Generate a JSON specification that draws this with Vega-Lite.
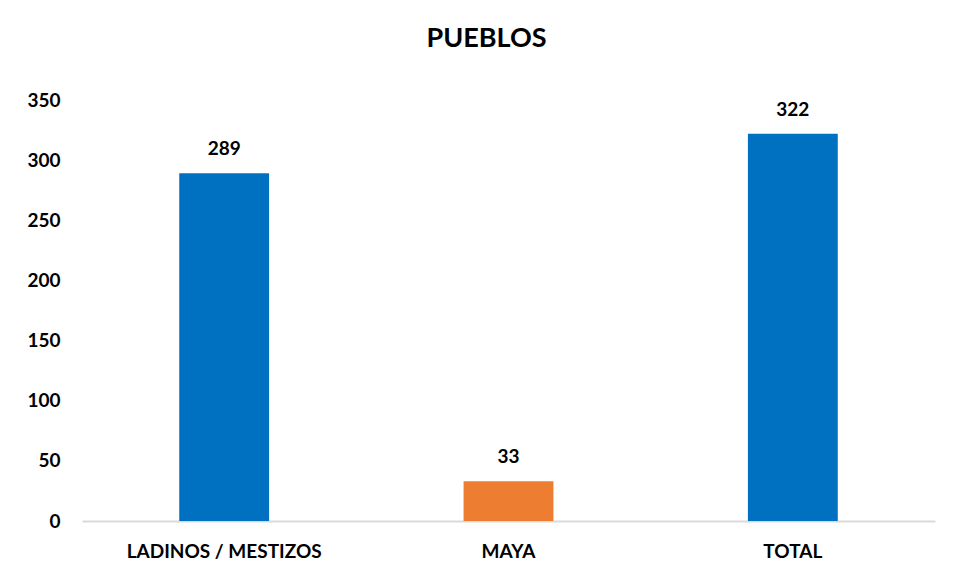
{
  "$schema": "https://vega.github.io/schema/vega-lite/v6.json",
  "autosize": "none",
  "width": 853,
  "height": 421,
  "padding": {"left": 82, "top": 100, "right": 19, "bottom": 57},
  "background": "white",
  "config": {"view": {"stroke": null}, "font": "Lato"},
  "title": {"text": "PUEBLOS", "fontSize": 27, "font": "Lato", "fontWeight": "bold", "color": "#000000", "anchor": "middle", "frame": "group", "dx": -22, "offset": 38},
  "data": {"values": [
    {"pueblo": "LADINOS / MESTIZOS", "valor": 289, "color": "#0070C0"},
    {"pueblo": "MAYA", "valor": 33, "color": "#ED7D31"},
    {"pueblo": "TOTAL", "valor": 322, "color": "#0070C0"}
  ]},
  "encoding": {
    "x": {"field": "pueblo", "type": "nominal", "sort": null,
      "scale": {"paddingInner": 0.684, "paddingOuter": 0.342},
      "axis": {"title": null, "labelAngle": 0, "labelFontSize": 19, "labelLimit": 0, "labelFont": "Lato", "labelFontWeight": "bold", "labelColor": "#000000", "labelPadding": 21, "ticks": false, "domainColor": "#D9D9D9", "domainWidth": 2}},
    "y": {"field": "valor", "type": "quantitative",
      "scale": {"domain": [0, 350], "nice": false},
      "axis": {"title": null, "values": [0, 50, 100, 150, 200, 250, 300, 350], "grid": false, "domain": false, "ticks": false, "labelFontSize": 19, "labelFont": "Lato", "labelFontWeight": "bold", "labelColor": "#000000", "labelPadding": 22}}
  },
  "layer": [
    {"mark": {"type": "bar"}, "encoding": {"color": {"field": "color", "type": "nominal", "scale": null}}},
    {"mark": {"type": "text", "dy": -24, "fontSize": 19, "fontWeight": "bold", "font": "Lato", "color": "#000000"}, "encoding": {"text": {"field": "valor", "type": "quantitative"}}}
  ]
}
